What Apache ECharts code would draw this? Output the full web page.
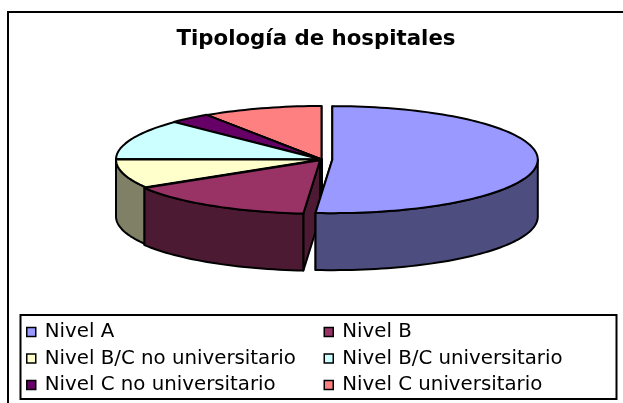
<!DOCTYPE html>
<html><head><meta charset="utf-8">
<style>html,body{margin:0;padding:0;background:#fff}#c{width:623px;height:403px}</style>
<script src="https://cdn.jsdelivr.net/npm/echarts@6/dist/echarts.min.js"></script>
</head><body><div id="c"></div>
<script>
const chartTitle = 'Tipología de hospitales';
const categories = ['Nivel A','Nivel B','Nivel B/C no universitario','Nivel B/C universitario','Nivel C no universitario','Nivel C universitario'];
const values = [51.3, 15, 8.8, 12.2, 3.3, 9.4];
const topColors = ['#9999FF','#993366','#FFFFCC','#CCFFFF','#660066','#FF8080'];
const sideColors = ['#4D4D80','#4D1A33','#808066','#668080','#330033','#804040'];
const explode = [12, 3, 0, 0, 1, 0];
const drawOrder = [5, 4, 3, 2, 1, 0].reduce((m, s, k) => (m[s] = k, m), {});

const CX = 321.5, CY = 159.5, RX = 205.5, RY = 53.5, DEPTH = 57;
const FONT = 'DejaVu Sans';
const total = values.reduce((a, b) => a + b, 0);
const startOf = i => values.slice(0, i).reduce((a, b) => a + b, 0) / total * 2 * Math.PI;

function sliceShapes(i, v) {
  const a0 = startOf(i), a1 = a0 + v / total * 2 * Math.PI, mid = (a0 + a1) / 2;
  const ox = CX + explode[i] * Math.sin(mid) * 0.9;
  const oy = CY - explode[i] * Math.cos(mid) * 0.3;
  const pt = (t, dz) => [ox + RX * Math.sin(t), oy - RY * Math.cos(t) + (dz || 0)];
  const arc = (s, e, dz) => {
    const out = [], n = Math.max(2, Math.ceil((e - s) / 0.03));
    for (let k = 0; k <= n; k++) out.push(pt(s + (e - s) * k / n, dz));
    return out;
  };
  const base = { stroke: '#000', lineWidth: 2, lineJoin: 'round' };
  const side = Object.assign({ fill: sideColors[i] }, base);
  const top = Object.assign({ fill: topColors[i] }, base);
  const poly = (points, style, z2) => ({ type: 'polygon', shape: { points }, style, z2 });
  const children = [];
  (mid > Math.PI ? [a1, a0] : [a0, a1]).forEach((t, k) => {
    children.push(poly([[ox, oy], pt(t), pt(t, DEPTH), [ox, oy + DEPTH]], side, 1 + k));
  });
  const s = Math.max(a0, Math.PI / 2), e = Math.min(a1, Math.PI * 1.5);
  if (e > s) {
    children.push(poly(arc(s, e).concat(arc(s, e, DEPTH).reverse()), side, 3));
  }
  children.push(poly([[ox, oy]].concat(arc(a0, a1)), top, 4));
  return children;
}

const legendBase = {
  orient: 'vertical', itemWidth: 9, itemHeight: 9, itemGap: 6.5, padding: 0,
  icon: 'rect', selectedMode: false,
  itemStyle: { borderColor: '#000', borderWidth: 1.5 },
  textStyle: { fontFamily: FONT, fontSize: 19.8, color: '#000', padding: [0, 0, 0, 4] }
};

const option = {
  animation: false,
  backgroundColor: '#fff',
  title: {
    text: chartTitle, left: 311, top: 24, textAlign: 'center',
    textStyle: { fontFamily: FONT, fontSize: 21.3, fontWeight: 'bold', color: '#000' }
  },
  legend: [
    Object.assign({}, legendBase, { left: 26, top: 322, data: categories.filter((c, i) => i % 2 === 0) }),
    Object.assign({}, legendBase, { left: 323.5, top: 322, data: categories.filter((c, i) => i % 2 === 1) })
  ],
  graphic: [
    { type: 'polyline', z: -1, shape: { points: [[8, 403], [8, 12], [623, 12]] }, style: { stroke: '#000', lineWidth: 2, fill: null } },
    { type: 'rect', z: -1, shape: { x: 20.5, y: 315, width: 596, height: 84 }, style: { stroke: '#000', lineWidth: 2, fill: '#fff' } }
  ],
  series: categories.map((name, i) => ({
    type: 'custom', name, coordinateSystem: 'none', z: 2 + drawOrder[i],
    silent: true,
    itemStyle: { color: topColors[i] },
    data: [values[i]],
    renderItem: (params, api) => ({ type: 'group', children: sliceShapes(i, api.value(0)) })
  }))
};
const chart = echarts.init(document.getElementById('c'), null, { renderer: 'canvas' });
chart.setOption(option);
</script></body></html>
